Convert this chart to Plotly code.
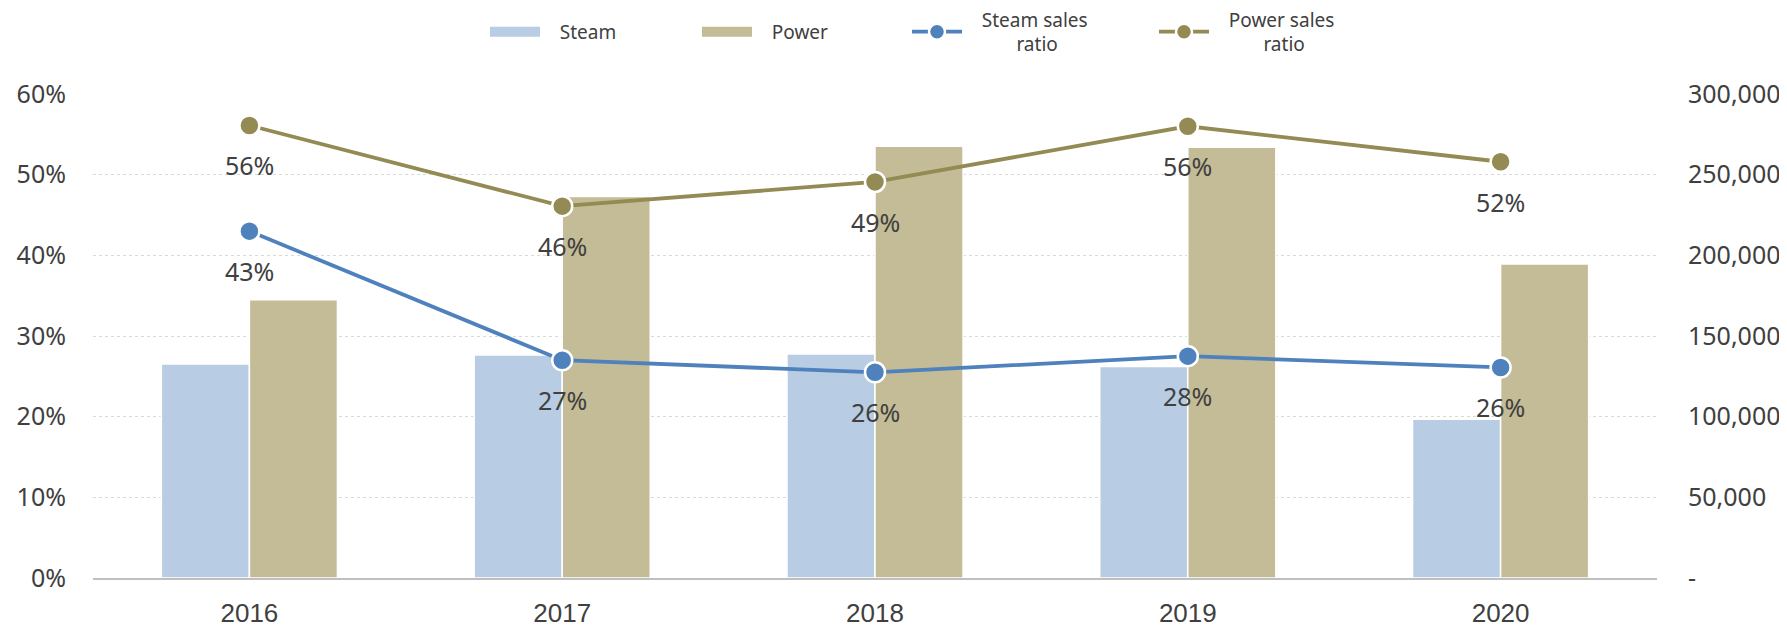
import plotly.graph_objects as go

# ---- data ----
years = ["2016", "2017", "2018", "2019", "2020"]
steam = [132600, 138300, 138800, 131100, 98400]
power = [172500, 236400, 267600, 267000, 194600]
steam_ratio = [43.0, 27.0, 25.5, 27.5, 26.1]
power_ratio = [56.1, 46.1, 49.1, 56.0, 51.6]
right_ticks = [0, 50000, 100000, 150000, 200000, 250000, 300000]
right_tick_text = ["-", "50,000", "100,000", "150,000", "200,000", "250,000", "300,000"]
left_ticks = [0, 10, 20, 30, 40, 50, 60]
left_tick_text = ["0%", "10%", "20%", "30%", "40%", "50%", "60%"]

STEAM_BAR = "#b8cce4"
POWER_BAR = "#c4bc96"
STEAM_LINE = "#4f81bd"
POWER_LINE = "#948a54"
TXT = "#404040"
FONT = "Noto Sans"
NB = "\u00a0"

# the page body adds an 8px offset; the figure is sized to fill the rest of the window
W, H = 1779, 620

fig = go.Figure()

# bars (right axis, drawn underneath)
fig.add_trace(go.Bar(x=years, y=steam, name="Steam", marker=dict(color=STEAM_BAR, line=dict(color="white", width=1.5)),
                     yaxis="y", showlegend=False))
fig.add_trace(go.Bar(x=years, y=power, name="Power", marker=dict(color=POWER_BAR, line=dict(color="white", width=1.5)),
                     yaxis="y", showlegend=False))

# legend proxies for bars
fig.add_trace(go.Scatter(x=[None], y=[None], mode="lines", name=NB * 3 + "Steam",
                         line=dict(color=STEAM_BAR, width=10), yaxis="y", legend="legend"))
fig.add_trace(go.Scatter(x=[None], y=[None], mode="lines", name=NB * 3 + "Power",
                         line=dict(color=POWER_BAR, width=10), yaxis="y", legend="legend2"))

# ratio lines (left axis, on top)
fig.add_trace(go.Scatter(x=years, y=steam_ratio, name=NB * 3 + "Steam sales<br>" + NB * 10 + "ratio",
                         mode="lines+markers", line=dict(color=STEAM_LINE, width=3.8),
                         marker=dict(size=20, color=STEAM_LINE, line=dict(color="white", width=2.5)),
                         yaxis="y2", legend="legend3"))
fig.add_trace(go.Scatter(x=years, y=power_ratio, name=NB * 3 + "Power sales<br>" + NB * 10 + "ratio",
                         mode="lines+markers", line=dict(color=POWER_LINE, width=3.8),
                         marker=dict(size=20, color=POWER_LINE, line=dict(color="white", width=2.5)),
                         yaxis="y2", legend="legend4"))

annotations = []
for series in (steam_ratio, power_ratio):
    for i, v in enumerate(series):
        annotations.append(dict(x=i, y=v, xref="x", yref="y2", text=f"{v:.0f}%", showarrow=False,
                                yshift=-40, font=dict(family=FONT, size=25, color=TXT)))


def leg(xpx):
    return dict(orientation="h", xref="container", yref="container", x=xpx / W, y=1 - 24 / H,
                xanchor="left", yanchor="middle", itemwidth=50, bgcolor="rgba(0,0,0,0)",
                font=dict(family=FONT, size=19, color=TXT), valign="middle")


fig.update_layout(
    width=W, height=H,
    margin=dict(l=85, r=130, t=86, b=50, autoexpand=False),
    paper_bgcolor="white", plot_bgcolor="white",
    barmode="group", bargap=0.437, bargroupgap=0,
    font=dict(family=FONT, color=TXT),
    annotations=annotations,
    legend=leg(477), legend2=leg(689), legend3=leg(899), legend4=leg(1146),
    xaxis=dict(type="category", range=[-0.5, 4.5], showline=True, linecolor="#bfbfbf", linewidth=2,
               ticks="", showgrid=False, tickfont=dict(family="Liberation Sans", size=26, color=TXT),
               ticklabelstandoff=11, automargin=False),
    yaxis=dict(side="right", range=[0, 300000], tickvals=right_ticks, ticktext=right_tick_text,
               showgrid=True, gridcolor="#d9d9d9", griddash="dot", gridwidth=1, zeroline=False,
               showline=False, ticks="", tickfont=dict(family=FONT, size=25, color=TXT),
               ticklabelstandoff=30, automargin=False),
    yaxis2=dict(overlaying="y", side="left", range=[0, 60], tickvals=left_ticks, ticktext=left_tick_text,
                showgrid=False, zeroline=False, showline=False, ticks="",
                tickfont=dict(family=FONT, size=25, color=TXT), ticklabelstandoff=26, automargin=False),
)

fig.write_html("out.html")
